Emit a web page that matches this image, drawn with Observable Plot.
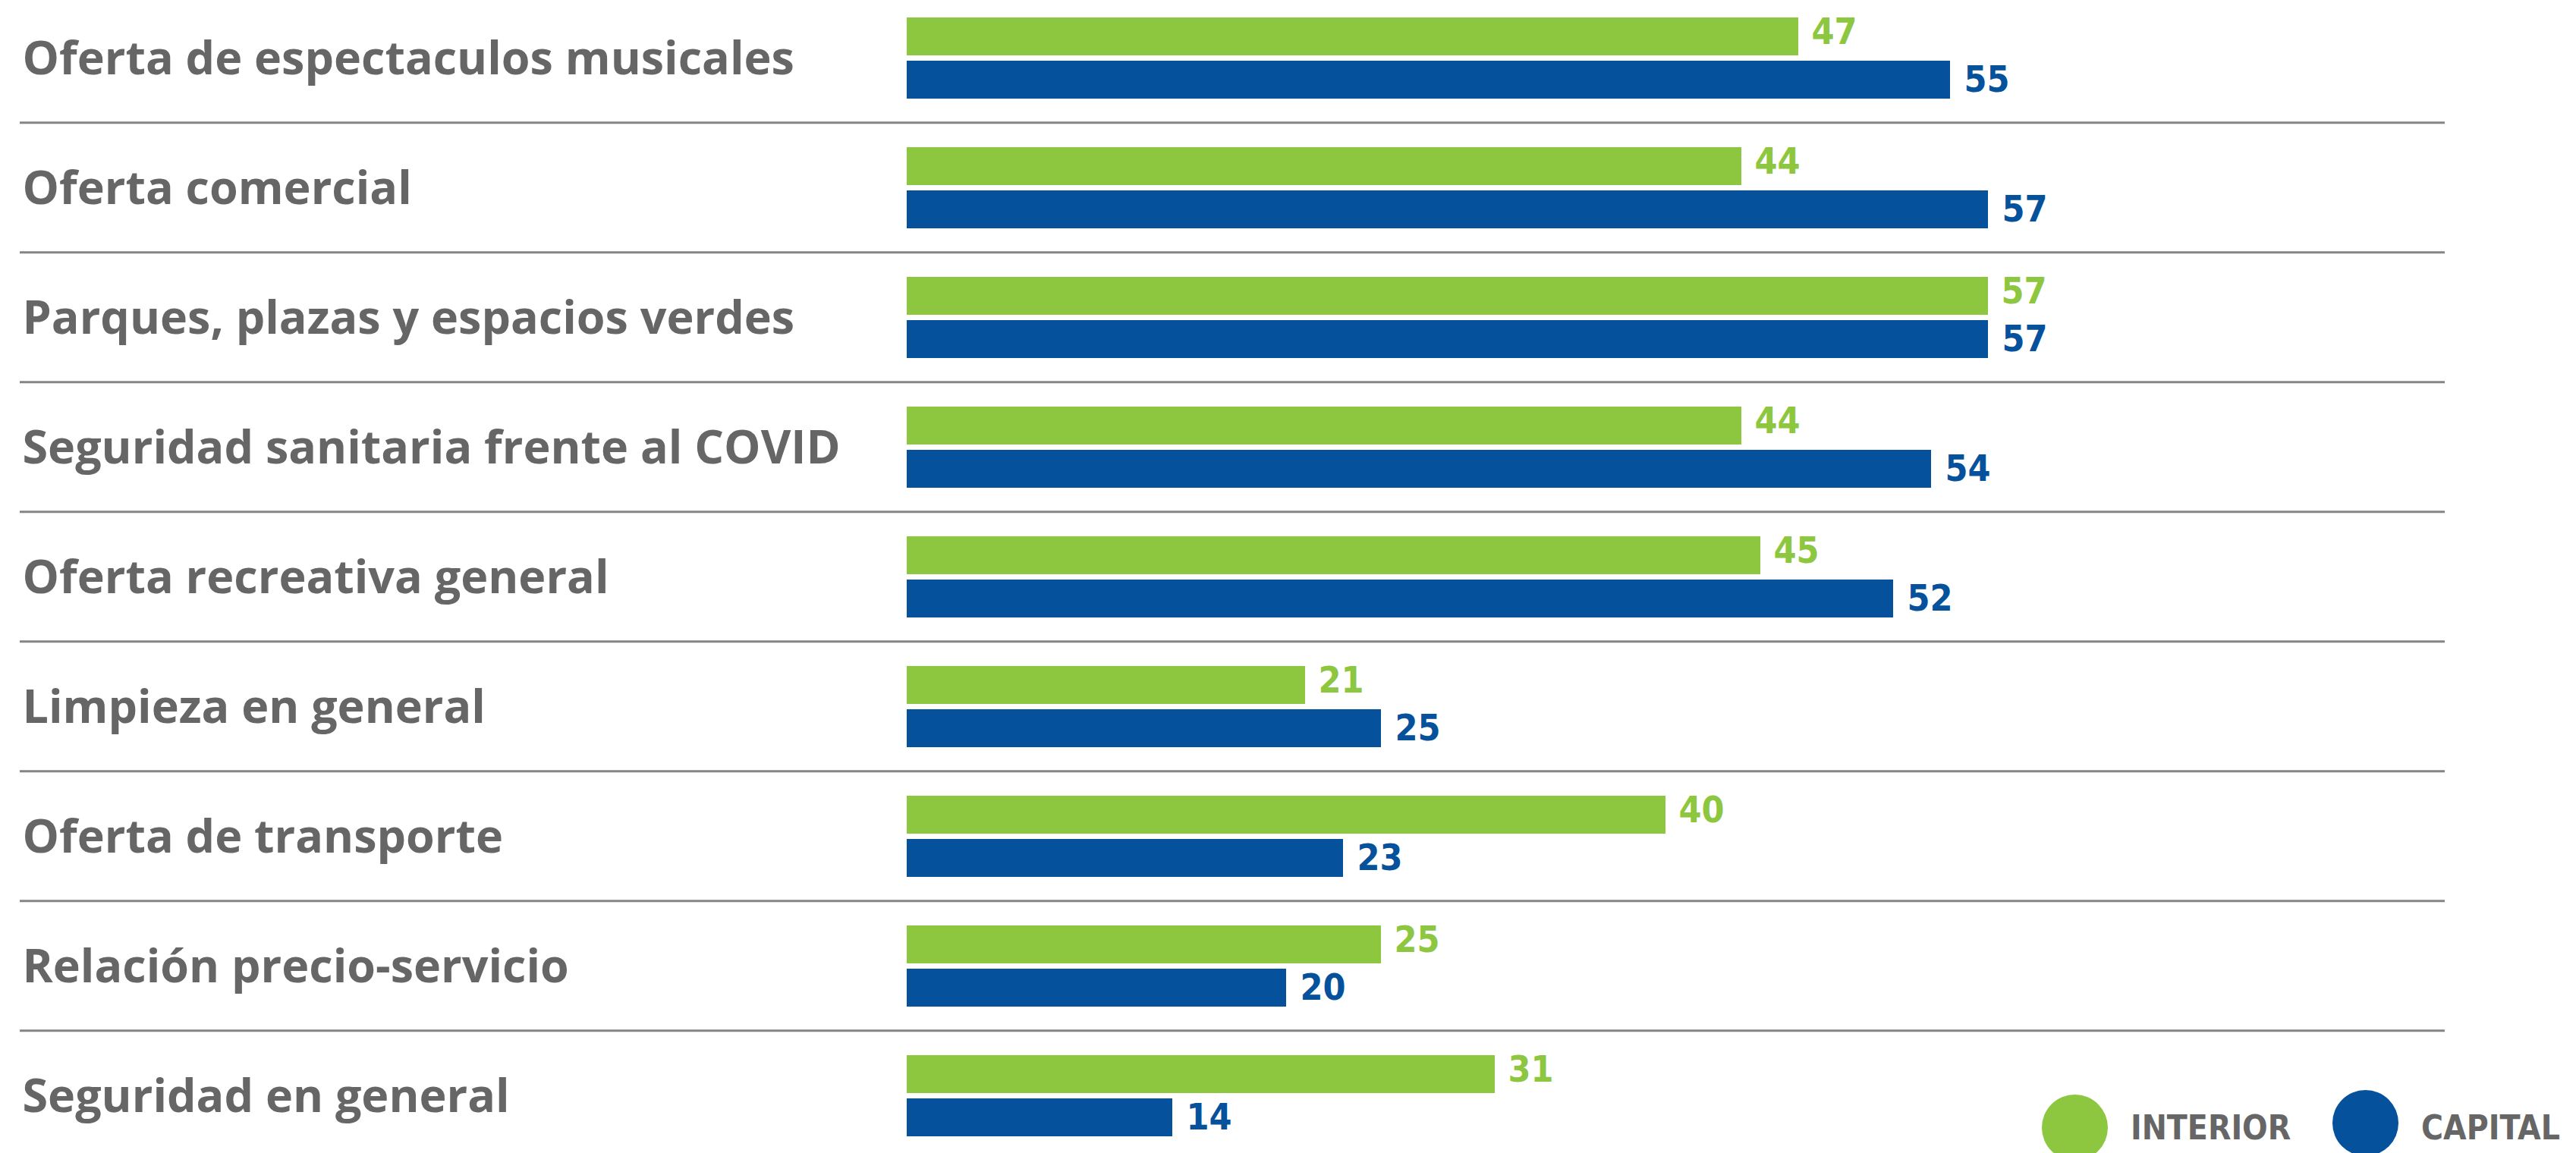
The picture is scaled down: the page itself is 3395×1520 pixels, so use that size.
<!DOCTYPE html>
<html>
<head>
<meta charset="utf-8">
<script src="https://cdn.jsdelivr.net/npm/d3@7"></script>
<script src="https://cdn.jsdelivr.net/npm/@observablehq/plot@0.6"></script>
<style>
  html, body { margin: 0; padding: 0; background: #ffffff; overflow: hidden; }
  #wrap { position: relative; width: 3395px; height: 1520px; overflow: hidden; }
  #legend { position: absolute; left: 2691px; top: 1443px; display: flex; align-items: center;
            font-family: "Liberation Sans Narrow", "DejaVu Sans Condensed", "Roboto", sans-serif;
            font-weight: 700; font-size: 44px; color: #666666; white-space: nowrap; }
  .sw { width: 87px; height: 87px; border-radius: 50%; display: inline-block; flex: none; }
  .lab { margin-left: 30px; display: inline-block; }
  .lab.first { width: 208px; margin-right: 58px; }
</style>
</head>
<body>
<div id="wrap"><div id="legend"></div></div>
<script>
const categories = [
  "Oferta de espectaculos musicales",
  "Oferta comercial",
  "Parques, plazas y espacios verdes",
  "Seguridad sanitaria frente al COVID",
  "Oferta recreativa general",
  "Limpieza en general",
  "Oferta de transporte",
  "Relación precio-servicio",
  "Seguridad en general"
];
const interior = [47, 44, 57, 44, 45, 21, 40, 25, 31];
const capital  = [55, 57, 57, 54, 52, 25, 23, 20, 14];
const seriesNames = ["INTERIOR", "CAPITAL"];
const colors = ["#8dc63f", "#05519c"];

const rows = categories.map((c, i) => ({category: c, interior: interior[i], capital: capital[i]}));

const W = 3395, H = 1520;
const band = 171.4;
const labelFont = "'Open Sans', Lato, sans-serif";
const numFont = "'Liberation Sans Narrow', 'DejaVu Sans Condensed', Roboto, sans-serif";

const chart = Plot.plot({
  width: W,
  height: H,
  marginLeft: 26,
  marginRight: 173,
  marginTop: 0,
  marginBottom: 0,
  style: {background: "#ffffff"},
  x: {domain: [0, 80], range: [1195, 1195 + 80 * 25], axis: null},
  y: {type: "band", domain: categories, range: [-11.4, -11.4 + band * categories.length], padding: 0, axis: null},
  marks: [
    Plot.ruleY(categories.slice(0, -1), {y: d => d, dy: band / 2, stroke: "#858585", strokeWidth: 3}),
    Plot.barX(rows, {x: "interior", y: "category", fill: colors[0], insetTop: 33, insetBottom: 88}),
    Plot.barX(rows, {x: "capital", y: "category", fill: colors[1], insetTop: 90, insetBottom: 31}),
    Plot.text(rows, {x: "interior", y: "category", text: d => String(d.interior), dx: 17, dy: -33,
      textAnchor: "start", fill: colors[0], fontSize: 48, fontWeight: 700, fontFamily: numFont}),
    Plot.text(rows, {x: "capital", y: "category", text: d => String(d.capital), dx: 18, dy: 30,
      textAnchor: "start", fill: colors[1], fontSize: 48, fontWeight: 700, fontFamily: numFont}),
    Plot.text(rows, {y: "category", text: "category", frameAnchor: "left", textAnchor: "start", dx: 3, dy: 2,
      fill: "#666666", fontSize: 61, fontWeight: 700, fontFamily: labelFont})
  ]
});
document.getElementById("wrap").insertBefore(chart, document.getElementById("legend"));
chart.style.position = "absolute";
chart.style.left = "0px";
chart.style.top = "0px";

const legend = document.getElementById("legend");
seriesNames.forEach((name, i) => {
  const sw = document.createElement("span");
  sw.className = "sw";
  sw.style.background = colors[i];
  if (i === 1) sw.style.marginTop = "-12px";
  const t = document.createElement("span");
  t.className = i === 0 ? "lab first" : "lab";
  t.textContent = name;
  legend.appendChild(sw);
  legend.appendChild(t);
});
</script>
</body>
</html>
